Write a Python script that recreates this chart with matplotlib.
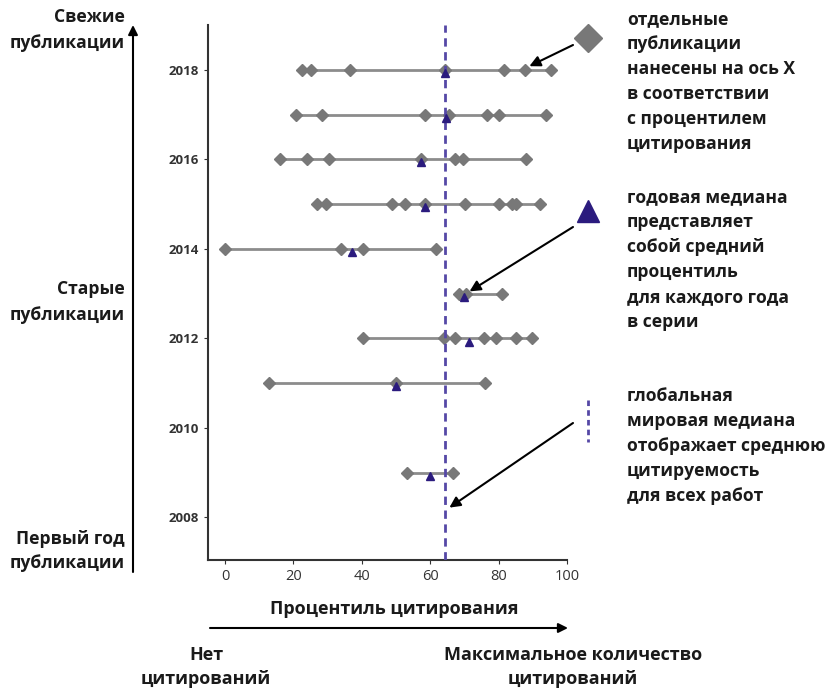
import matplotlib.pyplot as plt
from matplotlib.lines import Line2D

# Данные: процентиль цитирования отдельных публикаций по годам
years = [2018, 2017, 2016, 2015, 2014, 2013, 2012, 2011, 2009]
pubs = [
    [22.5, 25.0, 36.5, 64.3, 81.6, 87.7, 95.3],
    [20.8, 28.4, 58.5, 65.5, 76.5, 80.2, 93.8],
    [16.1, 24.0, 30.3, 57.2, 67.2, 69.7, 88.0],
    [26.9, 29.6, 48.9, 52.6, 58.5, 70.2, 80.2, 84.0, 85.0, 92.2],
    [0.0, 33.9, 40.3, 61.6],
    [68.5, 70.5, 81.0],
    [40.3, 64.0, 67.2, 75.6, 79.2, 85.0, 89.7],
    [12.9, 49.9, 76.0],
    [53.3, 66.7],
]
# Годовые медианы
medians = [64.3, 64.5, 57.2, 58.5, 37.2, 69.9, 71.4, 49.9, 59.8]
# Глобальная медиана
global_median = 64.3

year_ticks = [2008, 2010, 2012, 2014, 2016, 2018]
x_ticks = [0, 20, 40, 60, 80, 100]

plt.rcParams['font.family'] = ['Open Sans', 'DejaVu Sans']

gray_line = '#8c8c8c'
gray_pt = '#787878'
navy = '#2b1b7e'
dash_col = '#5548a6'

fig = plt.figure(figsize=(8.36, 6.9), dpi=100)
ax = fig.add_axes([208 / 836, 1 - 560 / 690, (567 - 208) / 836, (560 - 25) / 690])

for y, vals in zip(years, pubs):
    ax.plot([min(vals), max(vals)], [y, y], color=gray_line, lw=2, zorder=1)
    ax.plot(vals, [y] * len(vals), 'D', color=gray_pt, markersize=5.8, zorder=2)

ax.axvline(global_median, color=dash_col, ls=(0, (3, 2)), lw=2, zorder=3)
ax.plot(medians, [y - 0.07 for y in years], '^', color=navy, markersize=5.8, zorder=4)

ax.set_xlim(-5, 100)
ax.set_ylim(2007.05, 2019)
ax.set_xticks(x_ticks)
ax.set_yticks(year_ticks)
ax.tick_params(axis='x', labelsize=10.5, colors='#333333', length=3)
ax.tick_params(axis='y', labelsize=9.5, colors='#333333', length=3)
for lab in ax.get_yticklabels():
    lab.set_fontweight('bold')
for s in ['top', 'right']:
    ax.spines[s].set_visible(False)
for s in ['left', 'bottom']:
    ax.spines[s].set_linewidth(1.5)
    ax.spines[s].set_color('#333333')

bold = dict(fontweight='bold', fontsize=12.6, color='#1a1a1a', linespacing=1.5)
bold_b = dict(fontweight='bold', fontsize=13, color='#1a1a1a', linespacing=1.45)

# Стрелки-пояснения
arr = dict(arrowstyle='-|>', color='black', lw=1.5, mutation_scale=16, shrinkA=0, shrinkB=0)
ax.annotate('', xy=(89, 2018.08), xytext=(573, 690 - 45), textcoords='figure pixels', arrowprops=arr)
ax.annotate('', xy=(71.5, 2013.05), xytext=(573, 690 - 227), textcoords='figure pixels', arrowprops=arr)
ax.annotate('', xy=(65.6, 2008.22), xytext=(573, 690 - 423), textcoords='figure pixels', arrowprops=arr)

# Значки легенды справа
fig.add_artist(Line2D([588 / 836], [1 - 38 / 690], marker='D', color=gray_pt, markersize=14,
                      transform=fig.transFigure))
fig.add_artist(Line2D([588 / 836], [1 - 211 / 690], marker='^', color=navy, markersize=16,
                      transform=fig.transFigure))
fig.add_artist(Line2D([588 / 836, 588 / 836], [1 - 400 / 690, 1 - 442 / 690], color=dash_col,
                      ls=(0, (2, 1.5)), lw=2, transform=fig.transFigure))

fig.text(627 / 836, 1 - 10 / 690, 'отдельные\nпубликации\nнанесены на ось X\nв соответствии\nс процентилем\nцитирования',
         ha='left', va='top', **bold)
fig.text(627 / 836, 1 - 188 / 690, 'годовая медиана\nпредставляет\nсобой средний\nпроцентиль\nдля каждого года\nв серии',
         ha='left', va='top', **bold)
fig.text(627 / 836, 1 - 387 / 690, 'глобальная\nмировая медиана\nотображает среднюю\nцитируемость\nдля всех работ',
         ha='left', va='top', **bold)

# Левая ось времени
fig.text(125 / 836, 1 - 30 / 690, 'Свежие\nпубликации', ha='right', va='center', **bold)
fig.text(125 / 836, 1 - 302 / 690, 'Старые\nпубликации', ha='right', va='center', **bold)
fig.text(125 / 836, 1 - 551 / 690, 'Первый год\nпубликации', ha='right', va='center', **bold)
ax.annotate('', xy=(133, 690 - 25), xytext=(133, 690 - 572), xycoords='figure pixels',
            textcoords='figure pixels', arrowprops=dict(arrowstyle='-|>', color='black', lw=1.5,
                                                        mutation_scale=14, shrinkA=0, shrinkB=0))

# Нижняя ось
fig.text(394 / 836, 1 - 609 / 690, 'Процентиль цитирования', ha='center', va='center', **bold_b)
ax.annotate('', xy=(568, 690 - 628), xytext=(210, 690 - 628), xycoords='figure pixels',
            textcoords='figure pixels', arrowprops=dict(arrowstyle='-|>', color='black', lw=1.5,
                                                        mutation_scale=14, shrinkA=0, shrinkB=0))
fig.text(206 / 836, 1 - 667 / 690, 'Нет\nцитирований', ha='center', va='center', multialignment='center', **bold_b)
fig.text(573 / 836, 1 - 667 / 690, 'Максимальное количество\nцитирований', ha='center', va='center',
         multialignment='center', **bold_b)

fig.savefig('out.png', dpi=100)
